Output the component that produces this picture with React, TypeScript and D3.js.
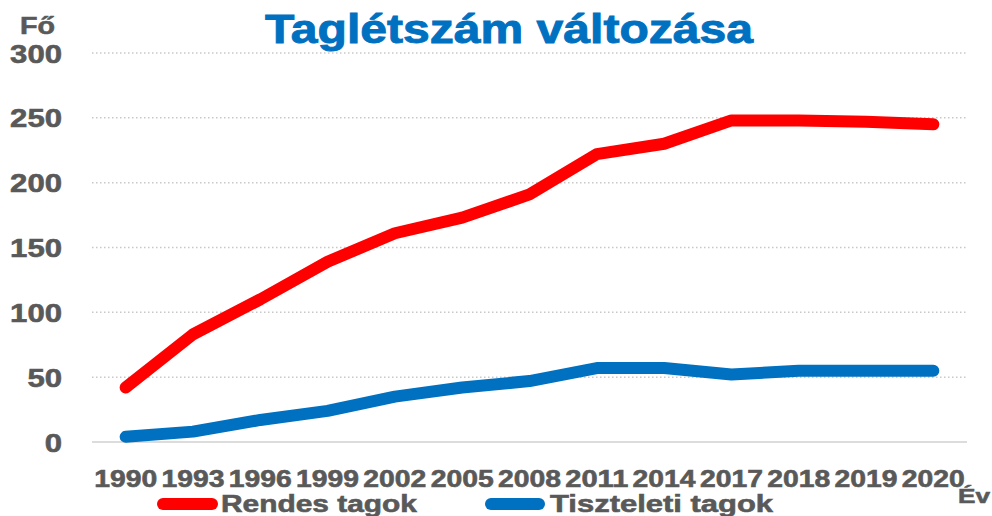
import React from "react";
import * as d3 from "d3";

const years = ["1990","1993","1996","1999","2002","2005","2008","2011","2014","2017","2018","2019","2020"];
const rendes = [42, 83, 110, 139, 161, 173, 191, 222, 230, 248, 248, 247, 245];
const tiszteleti = [4, 8, 17, 24, 35, 42, 47, 57, 57, 52, 55, 55, 55];
const yTicks = [0, 50, 100, 150, 200, 250, 300];
const seriesNames = ["Rendes tagok", "Tiszteleti tagok"];
const colors = ["#FF0000", "#0070C0"];

const W = 992, H = 516;
const FONT = "'Liberation Sans', Arial, sans-serif";
const GRAY = "#595959";

export default function App() {
  const x = d3.scaleBand<string>().domain(years).range([92, 967]);
  const y = d3.scaleLinear().domain([0, 300]).range([442, 53]);
  const cx = (d: string) => (x(d) as number) + x.bandwidth() / 2;
  const line = d3.line<number>().x((_, i) => cx(years[i])).y((v) => y(v));
  const series = [rendes, tiszteleti];
  const legend = [
    { x1: 157, x2: 218, tx: 221, tw: 196 },
    { x1: 485, x2: 545, tx: 550, tw: 223 },
  ];
  const heavy = { stroke: GRAY, strokeWidth: 0.6 };
  return (
    <svg width={W} height={H} style={{ position: "absolute", left: 0, top: 0, background: "#fff" }} fontFamily={FONT}>
      <text x={265} y={43} fontSize={41} fontWeight="bold" fill="#0070C0" stroke="#0070C0" strokeWidth={0.9} textLength={488} lengthAdjust="spacingAndGlyphs">Taglétszám változása</text>
      <text x={20} y={34} fontSize={24} fontWeight="bold" fill={GRAY} {...heavy} textLength={35} lengthAdjust="spacingAndGlyphs">Fő</text>
      {yTicks.map((t) => (
        <g key={t}>
          <line x1={92} x2={967} y1={y(t)} y2={y(t)} stroke={t === 0 ? "#D0D0D0" : "#C8C8C8"} strokeWidth={1.5} strokeDasharray={t === 0 ? undefined : "1.5 2.5"} />
          <text x={62} y={y(t) + 9.5} fontSize={26} fontWeight="bold" fill={GRAY} {...heavy} textAnchor="end" textLength={String(t).length * 17.3} lengthAdjust="spacingAndGlyphs">{t}</text>
        </g>
      ))}
      {years.map((yr) => (
        <text key={yr} x={cx(yr)} y={487} fontSize={24} fontWeight="bold" fill={GRAY} {...heavy} textAnchor="middle" textLength={63} lengthAdjust="spacingAndGlyphs">{yr}</text>
      ))}
      {series.map((s, i) => (
        <path key={i} d={line(s) as string} fill="none" stroke={colors[i]} strokeWidth={12} strokeLinejoin="round" strokeLinecap="round" />
      ))}
      {legend.map((l, i) => (
        <g key={i}>
          <line x1={l.x1 + 6} x2={l.x2 - 6} y1={504} y2={504} stroke={colors[i]} strokeWidth={12} strokeLinecap="round" />
          <text x={l.tx} y={512} fontSize={24} fontWeight="bold" fill={GRAY} {...heavy} textLength={l.tw} lengthAdjust="spacingAndGlyphs">{seriesNames[i]}</text>
        </g>
      ))}
      <text x={958} y={503} fontSize={21} fontWeight="bold" fill={GRAY} {...heavy} textLength={32} lengthAdjust="spacingAndGlyphs">Év</text>
    </svg>
  );
}
